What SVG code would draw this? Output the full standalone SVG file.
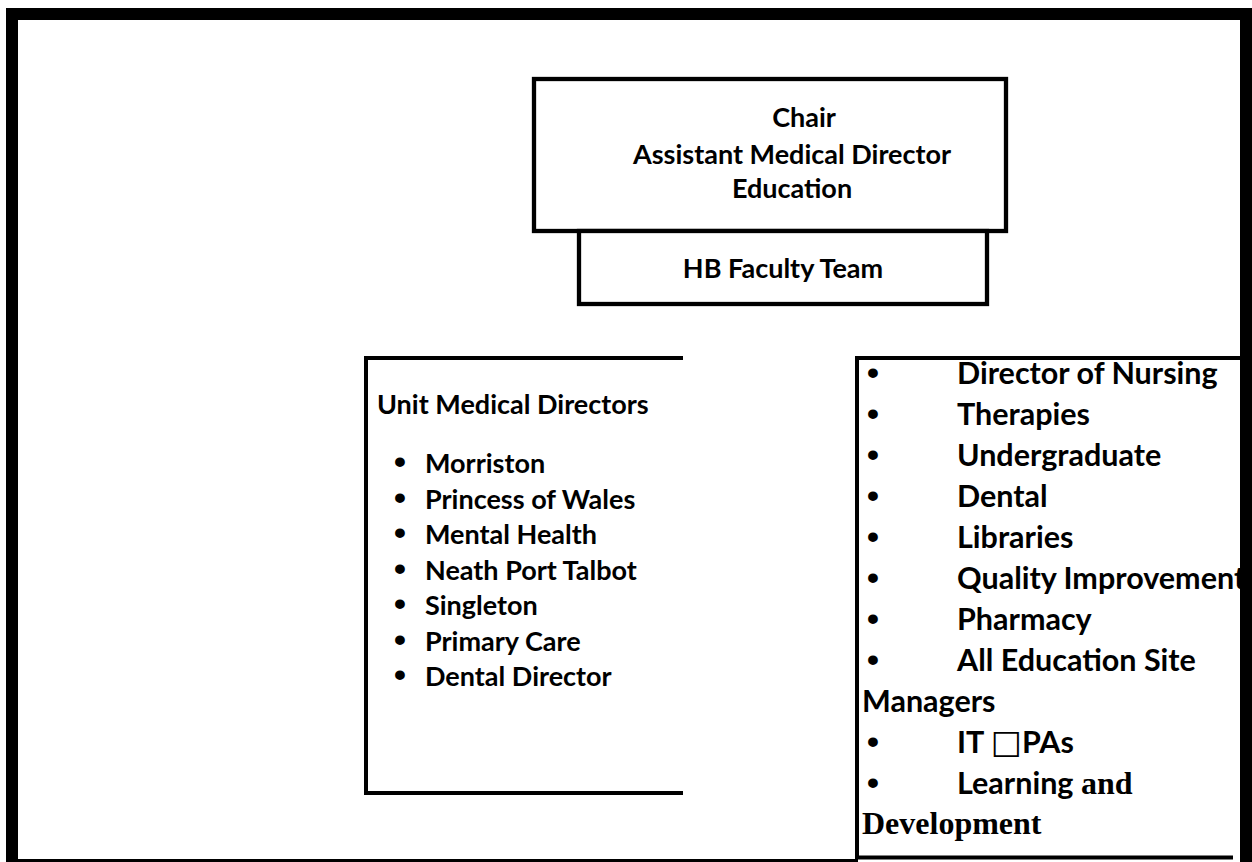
<svg xmlns="http://www.w3.org/2000/svg" width="1252" height="862" viewBox="0 0 1252 862">
  <style>
    .box { fill: #ffffff; stroke: #000000; stroke-width: 4.3; }
    .open { fill: none; stroke: #000000; stroke-width: 4; }
    .frame { fill: #000000; stroke: none; }
    .t { font-family: Lato, "Open Sans", sans-serif; font-weight: 700; fill: #000000; }
    .top { font-size: 27px; text-anchor: middle; }
    .lft { font-size: 27px; }
    .rgt { font-size: 30.5px; }
    .bul { font-family: "Liberation Sans", Arial, sans-serif; font-weight: 700; font-size: 34px; text-anchor: middle; fill: #000000; }
    .serif { font-family: "Liberation Serif", "Times New Roman", serif; font-weight: 700; font-size: 32px; fill: #000000; }
  </style>
  <rect x="0" y="0" width="1252" height="862" fill="#ffffff"/>

  <g id="chair">
    <rect class="box" x="534" y="79" width="472" height="152"/>
    <text class="t top" x="804" y="127">Chair</text>
    <text class="t top" x="792" y="164">Assistant Medical Director</text>
    <text class="t top" x="792" y="198">Education</text>
  </g>

  <g id="hb-faculty-team">
    <rect class="box" x="579" y="231" width="408" height="73"/>
    <text class="t top" x="783" y="278">HB Faculty Team</text>
  </g>

  <g id="unit-medical-directors">
    <path class="open" d="M683,358 H366 V793 H683"/>
    <text class="t lft" x="377" y="414">Unit Medical Directors</text>
    <text class="bul" x="400" y="473">•</text><text class="t lft" x="425" y="473">Morriston</text>
    <text class="bul" x="400" y="508.5">•</text><text class="t lft" x="425" y="508.5">Princess of Wales</text>
    <text class="bul" x="400" y="544">•</text><text class="t lft" x="425" y="544">Mental Health</text>
    <text class="bul" x="400" y="579.5">•</text><text class="t lft" x="425" y="579.5">Neath Port Talbot</text>
    <text class="bul" x="400" y="615">•</text><text class="t lft" x="425" y="615">Singleton</text>
    <text class="bul" x="400" y="650.5">•</text><text class="t lft" x="425" y="650.5">Primary Care</text>
    <text class="bul" x="400" y="686">•</text><text class="t lft" x="425" y="686">Dental Director</text>
  </g>

  <g id="other-members">
    <path class="open" d="M1244,358 H857 V857.5 H1233" stroke-width="5"/>
    <text class="bul" x="873" y="384">•</text><text class="t rgt" x="957" y="384">Director of Nursing</text>
    <text class="bul" x="873" y="425">•</text><text class="t rgt" x="957" y="425">Therapies</text>
    <text class="bul" x="873" y="466">•</text><text class="t rgt" x="957" y="466">Undergraduate</text>
    <text class="bul" x="873" y="507">•</text><text class="t rgt" x="957" y="507">Dental</text>
    <text class="bul" x="873" y="548">•</text><text class="t rgt" x="957" y="548">Libraries</text>
    <text class="bul" x="873" y="589">•</text><text class="t rgt" x="957" y="589">Quality Improvement</text>
    <text class="bul" x="873" y="630">•</text><text class="t rgt" x="957" y="630">Pharmacy</text>
    <text class="bul" x="873" y="671">•</text><text class="t rgt" x="957" y="671">All Education Site</text>
    <text class="t rgt" x="862" y="712">Managers</text>
    <text class="bul" x="873" y="753">•</text><text class="t rgt" x="957" y="753">IT <tspan font-family="DejaVu Sans, sans-serif" font-weight="400" font-size="33px">□</tspan>PAs</text>
    <text class="bul" x="873" y="794">•</text><text class="t rgt" x="957" y="794">Learning <tspan class="serif">and</tspan></text>
    <text class="serif" x="862" y="834">Development</text>
  </g>

  <g id="page-frame">
    <rect class="frame" x="6" y="8" width="1246" height="12"/>
    <rect class="frame" x="6" y="8" width="12" height="854"/>
    <rect class="frame" x="1240" y="8" width="12" height="854"/>
    <rect class="frame" x="6" y="859" width="852" height="3"/>
  </g>

  <g id="connectors"></g>
</svg>
